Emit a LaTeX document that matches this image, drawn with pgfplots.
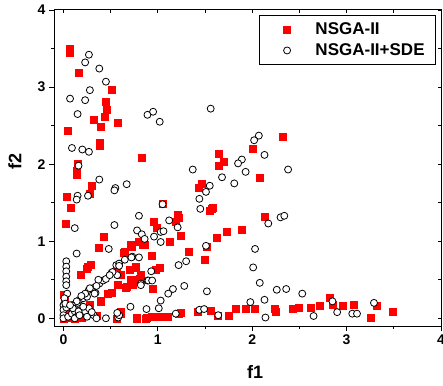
\documentclass[border=0pt]{standalone}
\usepackage{pgfplots}
\pgfplotsset{compat=1.18}
\usepackage{fontspec}
\setmainfont{Liberation Sans}
\begin{document}
\begin{tikzpicture}
\begin{axis}[
  scale only axis, width=387pt, height=316pt,
  xmin=-0.1, xmax=4, ymin=-0.1, ymax=4,
  xtick={0,1,2,3,4}, ytick={0,1,2,3,4},
  minor xtick={0.5,1.5,2.5,3.5}, minor ytick={0.5,1.5,2.5,3.5},
  tick align=outside, tick pos=left,
  major tick length=5pt, minor tick length=3pt,
  axis line style={line width=1pt},
  every tick/.style={black, line width=0.8pt},
  /pgf/number format/assume math mode=true,
  ticklabel style={font=\bfseries\fontsize{14}{14}\selectfont},
  xlabel={f1}, ylabel={f2},
  xlabel style={font=\bfseries\fontsize{18}{18}\selectfont, at={(axis description cs:0.52,0)}, anchor=north, inner sep=0pt, yshift=-39pt},
  ylabel style={font=\bfseries\fontsize{18}{18}\selectfont, at={(axis description cs:-0.101,0.52)}, anchor=center, inner sep=0pt},
  legend cell align=left,
  legend image code/.code={\path (0pt,0pt) (33pt,0pt); \draw[#1] plot coordinates {(18pt,0pt)};},
  legend style={at={(axis description cs:1,1)}, anchor=north east, xshift=-5pt, yshift=-5pt,
    draw=black, line width=0.8pt, font=\bfseries\fontsize{17}{17}\selectfont,
    inner xsep=9pt, inner ysep=5.5pt, row sep=3.5pt, column sep=11pt},
]
\addplot[only marks, mark=square*, color=red, mark size=3.5pt] coordinates {
(0.07,3.50)(0.07,3.45)(0.16,3.18)(0.51,2.96)(0.45,2.81)(0.46,2.71)(0.44,2.61)(0.32,2.58)(0.57,2.54)(0.39,2.48)(0.05,2.44)(0.38,2.28)(0.38,2.24)(0.83,2.09)(0.15,2.00)(0.14,1.91)(0.14,1.86)(0.30,1.72)(0.28,1.62)(0.03,1.58)(0.08,1.44)(0.02,1.23)
(0.43,1.06)(0.37,0.92)(0.71,0.95)(0.80,0.99)(0.84,0.95)(0.64,0.85)(0.29,0.70)(0.25,0.64)(0.18,0.56)(0.77,0.67)(0.82,0.55)(0.71,0.50)(0.66,0.40)(0.57,0.43)(0.51,0.33)(0.47,0.32)(0.39,0.23)(0.00,0.30)(0.01,0.25)(0.61,0.09)(0.56,0.00)(0.78,0.00)(0.87,0.00)(0.19,0.01)(0.12,0.00)(0.00,0.00)(0.08,0.15)(0.27,0.14)
(0.65,0.86)(0.26,0.67)(0.56,0.67)(0.70,0.63)(0.61,0.57)(0.67,0.41)(0.73,0.43)(0.28,0.17)(0.40,0.22)(0.02,0.15)(0.35,0.04)(0.61,0.06)
(1.05,1.49)(1.21,1.34)(1.19,1.25)(1.22,1.30)(0.96,1.25)(0.99,1.17)(1.24,1.07)(1.13,1.00)(0.86,0.95)(0.72,0.93)(1.33,0.86)(0.93,0.81)(1.50,0.76)(1.73,1.12)(1.62,1.05)(1.52,0.93)(1.57,1.42)(1.55,1.40)(0.77,0.66)(0.82,0.56)(0.81,0.52)(1.02,0.66)(0.98,0.63)(0.73,0.50)(0.95,0.39)
(0.78,0.01)(0.88,0.01)(0.94,0.02)(1.02,0.02)(1.10,0.02)(1.24,0.07)(1.22,0.06)(1.42,0.08)(1.56,0.10)(1.63,0.03)(1.75,0.03)(1.83,0.12)(1.93,0.13)(2.03,0.12)(2.24,0.13)(2.25,0.08)
(2.43,0.12)(2.49,0.14)(2.62,0.14)(2.71,0.16)(2.82,0.27)(2.85,0.17)(2.96,0.16)(3.07,0.17)(3.25,0.01)(3.32,0.16)(3.49,0.08)
(2.32,2.36)(1.65,2.13)(1.70,2.03)(1.65,1.98)(2.01,2.20)(2.08,1.83)(1.47,1.74)(1.43,1.69)(1.58,1.43)(1.89,1.15)(2.13,1.32)
(0.05,0.01)(0.10,0.02)(0.15,0.02)(0.05,0.08)(0.12,0.10)
};
\addlegendentry{NSGA-II}
\addplot[only marks, mark=*, mark size=3.5pt, mark options={fill=white, draw=black, line width=0.8pt}] coordinates {
(0.27,3.42)(0.23,3.32)(0.38,3.24)(0.45,3.07)(0.28,2.96)(0.07,2.85)(0.23,2.83)(0.15,2.65)(0.89,2.64)(0.95,2.68)(1.02,2.55)(1.56,2.72)
(0.09,2.21)(0.20,2.19)(0.27,2.16)(0.16,1.98)(0.38,1.80)(0.55,1.69)(0.54,1.66)(0.67,1.74)(0.15,1.59)(0.14,1.54)(0.26,1.59)(0.12,1.17)(0.54,1.21)(0.80,1.33)(0.78,1.14)(0.83,1.09)(0.86,1.03)(0.48,0.90)(0.14,0.84)
(0.03,0.74)(0.03,0.67)(0.03,0.61)(0.03,0.54)(0.03,0.48)(0.03,0.43)(0.04,0.32)(0.01,0.26)(0.00,0.17)(0.00,0.11)(0.00,0.04)(0.00,0.00)
(0.05,0.15)(0.10,0.17)(0.15,0.20)(0.17,0.24)(0.21,0.26)(0.25,0.28)(0.27,0.37)(0.31,0.39)(0.34,0.33)(0.38,0.45)(0.42,0.49)(0.45,0.51)(0.51,0.59)(0.56,0.69)(0.59,0.71)(0.57,0.56)(0.65,0.76)(0.73,0.80)(0.80,0.79)(0.82,0.45)(0.89,0.49)(0.59,0.68)(0.52,0.60)(0.49,0.56)(0.37,0.50)(0.35,0.42)(0.28,0.39)(0.23,0.32)(0.19,0.29)(0.14,0.22)(0.09,0.17)(0.33,0.32)
(0.05,0.02)(0.09,0.06)(0.12,0.09)(0.10,0.13)(0.12,0.00)(0.16,0.06)(0.19,0.11)(0.23,0.09)(0.27,0.13)(0.25,0.02)(0.32,0.04)(0.35,0.00)(0.45,0.00)(0.58,0.01)(0.59,0.04)(0.57,0.07)(0.71,0.15)(0.88,0.12)(0.03,0.14)(0.02,0.19)(0.07,0.17)(0.16,0.09)(0.17,0.04)(0.21,0.15)(0.30,0.08)
(1.05,1.48)(1.12,1.27)(1.21,1.18)(0.96,1.06)(1.03,1.12)(1.06,1.13)(1.03,0.99)(0.72,0.79)(0.93,0.61)(0.90,0.49)(0.94,0.49)(0.82,0.43)(1.22,0.69)(1.30,0.74)(1.16,0.38)(1.11,0.32)(1.28,0.42)(1.03,0.23)(1.01,0.13)(1.19,0.06)(1.52,0.35)(1.44,0.11)(1.49,0.12)(1.64,0.04)(1.51,0.94)(1.51,1.64)(1.44,1.55)(1.45,1.42)
(2.07,2.37)(2.02,2.31)(2.13,2.12)(1.89,2.06)(1.85,2.01)(1.93,1.90)(2.38,1.93)(1.68,1.83)(1.81,1.75)(1.37,1.93)(1.55,1.72)(2.30,1.31)(2.34,1.33)(2.17,1.23)
(2.03,0.90)(2.01,0.66)(2.08,0.46)(2.26,0.37)(2.36,0.38)(2.13,0.24)(1.98,0.21)(2.14,0.01)
(2.53,0.32)(2.65,0.03)(2.85,0.22)(2.90,0.08)(3.06,0.06)(3.11,0.06)(3.29,0.20)
};
\addlegendentry{NSGA-II+SDE}
\end{axis}
\begin{axis}[
  scale only axis, width=387pt, height=316pt,
  xmin=-0.1, xmax=4, ymin=-0.1, ymax=4,
  xtick={0,1,2,3,4}, ytick={0,1,2,3,4},
  minor xtick={0.5,1.5,2.5,3.5}, minor ytick={0.5,1.5,2.5,3.5},
  tick align=inside, tick pos=right,
  major tick length=3pt, minor tick length=3pt,
  xticklabels={}, yticklabels={},
  axis line style={line width=1pt},
  every tick/.style={black, line width=0.8pt},
]
\end{axis}
\pgfresetboundingbox
\path (-54pt,-59pt) rectangle (389pt,326pt);
\end{tikzpicture}
\end{document}
